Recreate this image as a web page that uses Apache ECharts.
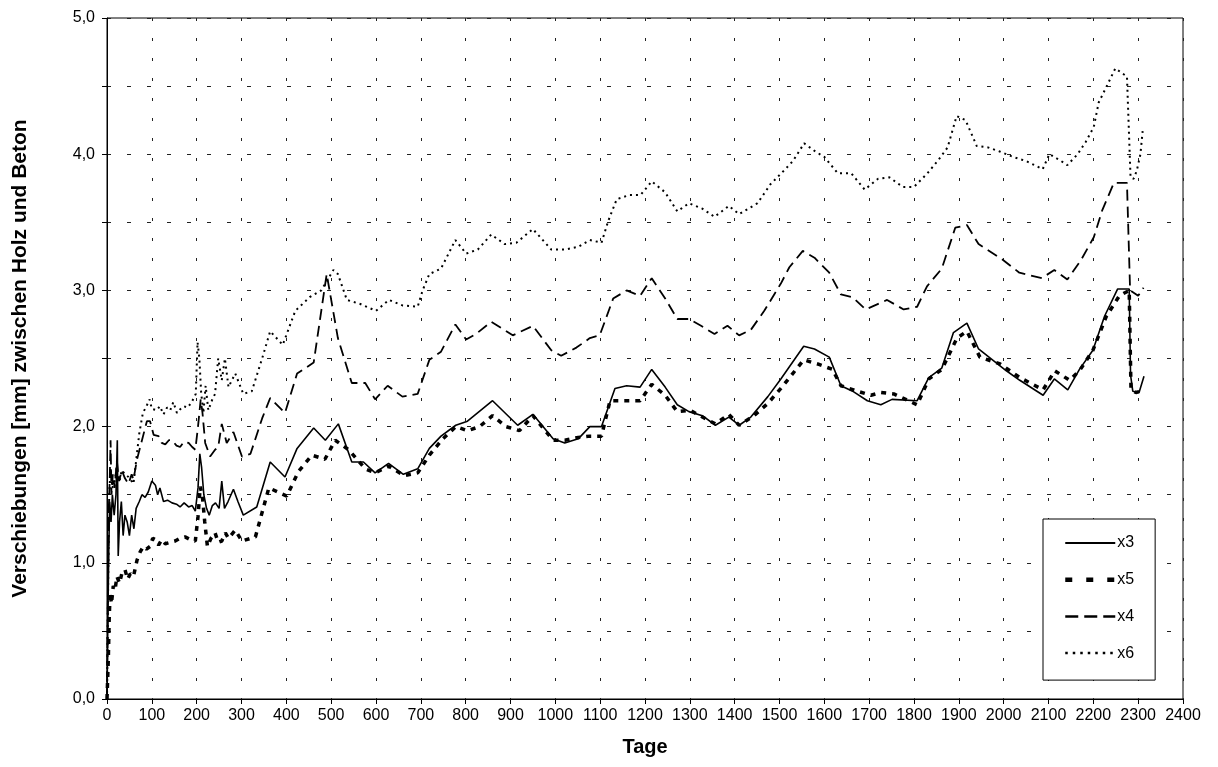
<!DOCTYPE html>
<html>
<head>
<meta charset="utf-8">
<script src="https://cdn.jsdelivr.net/npm/echarts@6/dist/echarts.min.js"></script>
<style>
html,body{margin:0;padding:0;background:#fff;}
#chart{width:1218px;height:767px;}
</style>
</head>
<body>
<div id="chart"></div>
<script>
// ---- data: [Tage, Verschiebung mm] ----
const seriesNames = ['x3', 'x5', 'x4', 'x6'];
const xTicks = { min: 0, max: 2400, step: 100 };
const yTicks = { min: 0, max: 5, step: 0.5 };

const x3 = [[0,0],[2,0.6],[4,1.1],[6,1.45],[9,1.3],[12,1.5],[16,1.35],[20,1.5],[23,1.9],[25,1.05],[28,1.3],[32,1.45],[36,1.2],[40,1.35],[45,1.3],[50,1.2],[55,1.35],[60,1.25],[65,1.4],[72,1.45],[78,1.5],[85,1.48],[92,1.52],[100,1.6],[108,1.57],[113,1.5],[118,1.55],[126,1.45],[135,1.46],[145,1.44],[155,1.43],[163,1.41],[172,1.44],[182,1.41],[190,1.42],[197,1.38],[203,1.55],[207,1.8],[211,1.7],[216,1.5],[222,1.4],[228,1.35],[235,1.42],[242,1.44],[250,1.4],[256,1.6],[262,1.4],[270,1.45],[282,1.54],[292,1.45],[304,1.35],[334,1.41],[364,1.74],[397,1.63],[424,1.84],[461,1.99],[487,1.9],[516,2.02],[546,1.74],[572,1.74],[598,1.66],[628,1.73],[661,1.65],[693,1.69],[719,1.84],[745,1.93],[778,2.01],[804,2.04],[860,2.19],[916,2.01],[950,2.09],[995,1.91],[1021,1.88],[1051,1.91],[1077,2.0],[1103,2.0],[1133,2.28],[1159,2.3],[1189,2.29],[1215,2.42],[1245,2.29],[1272,2.16],[1298,2.11],[1328,2.08],[1357,2.01],[1387,2.07],[1410,2.01],[1436,2.07],[1474,2.22],[1503,2.35],[1554,2.59],[1578,2.57],[1611,2.51],[1637,2.3],[1663,2.26],[1696,2.19],[1726,2.16],[1751,2.2],[1807,2.19],[1833,2.36],[1862,2.43],[1888,2.69],[1918,2.76],[1944,2.57],[2006,2.41],[2036,2.34],[2088,2.23],[2113,2.35],[2143,2.27],[2169,2.42],[2199,2.56],[2225,2.81],[2254,3.01],[2280,3.01],[2283,2.38],[2288,2.26],[2302,2.25],[2313,2.37]];

const x5 = [[0,0],[3,0.3],[5,0.6],[7,0.78],[10,0.7],[14,0.83],[18,0.8],[22,0.9],[28,0.85],[33,0.92],[40,0.95],[46,0.88],[52,0.92],[59,0.9],[67,1.02],[74,1.08],[81,1.12],[88,1.1],[96,1.12],[102,1.18],[108,1.17],[115,1.13],[122,1.17],[130,1.14],[141,1.15],[152,1.16],[163,1.18],[174,1.19],[186,1.17],[197,1.16],[203,1.34],[208,1.56],[213,1.48],[218,1.3],[224,1.12],[232,1.18],[241,1.22],[248,1.15],[256,1.16],[264,1.22],[271,1.18],[286,1.24],[301,1.16],[331,1.19],[361,1.55],[401,1.49],[427,1.67],[457,1.79],[486,1.76],[509,1.9],[539,1.83],[576,1.69],[598,1.66],[628,1.71],[663,1.64],[693,1.66],[719,1.79],[749,1.91],[778,2.0],[804,1.97],[831,2.0],[860,2.08],[890,2.0],[920,1.97],[950,2.08],[995,1.9],[1021,1.9],[1051,1.92],[1077,1.93],[1103,1.93],[1122,2.19],[1159,2.19],[1189,2.19],[1215,2.31],[1245,2.23],[1272,2.11],[1301,2.12],[1328,2.07],[1357,2.02],[1387,2.09],[1410,2.01],[1443,2.08],[1474,2.17],[1503,2.28],[1554,2.49],[1585,2.46],[1618,2.42],[1637,2.3],[1674,2.26],[1704,2.23],[1726,2.25],[1755,2.24],[1807,2.16],[1833,2.35],[1862,2.42],[1896,2.65],[1918,2.7],[1947,2.51],[1992,2.46],[2036,2.36],[2088,2.27],[2114,2.41],[2147,2.34],[2169,2.41],[2199,2.56],[2229,2.81],[2258,2.96],[2280,3.0],[2284,2.27],[2295,2.25],[2306,2.26]];

const x4 = [[0,0],[2,0.8],[4,1.4],[6,1.6],[8,1.9],[10,1.5],[13,1.65],[17,1.55],[22,1.75],[27,1.6],[33,1.68],[40,1.62],[48,1.58],[55,1.65],[59,1.61],[67,1.76],[78,1.9],[89,2.04],[96,2.04],[104,1.94],[115,1.93],[122,1.88],[130,1.87],[138,1.9],[145,1.9],[155,1.86],[163,1.85],[172,1.89],[182,1.88],[190,1.85],[197,1.83],[203,2.0],[209,2.2],[213,2.1],[219,1.88],[230,1.78],[241,1.83],[248,1.85],[256,2.02],[267,1.88],[282,1.96],[301,1.78],[320,1.8],[346,2.06],[364,2.21],[397,2.1],[424,2.39],[461,2.47],[490,3.12],[515,2.65],[546,2.32],[576,2.32],[598,2.2],[626,2.3],[659,2.22],[693,2.24],[719,2.49],[745,2.55],[777,2.75],[801,2.64],[823,2.68],[857,2.77],[905,2.67],[950,2.74],[991,2.56],[1013,2.52],[1047,2.58],[1077,2.65],[1099,2.67],[1129,2.94],[1159,3.0],[1189,2.96],[1215,3.09],[1245,2.94],[1272,2.79],[1298,2.79],[1325,2.74],[1355,2.68],[1384,2.74],[1410,2.67],[1436,2.71],[1466,2.85],[1503,3.05],[1522,3.17],[1552,3.29],[1578,3.24],[1611,3.13],[1637,2.97],[1663,2.95],[1692,2.86],[1740,2.93],[1777,2.86],[1807,2.88],[1829,3.03],[1862,3.16],[1892,3.46],[1918,3.48],[1944,3.34],[2000,3.22],[2035,3.13],[2085,3.09],[2113,3.15],[2142,3.08],[2172,3.22],[2201,3.39],[2220,3.59],[2246,3.79],[2275,3.79],[2282,3.0],[2300,2.96],[2312,3.02]];

const x6 = [[0,0],[3,1.0],[5,1.5],[8,1.7],[12,1.55],[17,1.6],[22,1.7],[28,1.6],[33,1.68],[40,1.65],[48,1.63],[55,1.6],[59,1.58],[65,1.75],[72,1.95],[80,2.1],[88,2.15],[95,2.2],[100,2.13],[111,2.12],[118,2.15],[126,2.09],[134,2.14],[141,2.12],[148,2.18],[156,2.1],[164,2.13],[171,2.15],[180,2.14],[189,2.18],[198,2.24],[202,2.62],[206,2.5],[210,2.25],[215,2.1],[220,2.3],[226,2.12],[235,2.2],[241,2.24],[248,2.5],[256,2.34],[263,2.5],[271,2.29],[286,2.39],[304,2.24],[323,2.26],[346,2.5],[364,2.7],[392,2.6],[420,2.85],[452,2.95],[478,3.0],[505,3.15],[515,3.12],[535,2.93],[565,2.9],[600,2.85],[629,2.93],[659,2.89],[693,2.88],[704,3.0],[719,3.12],[745,3.16],[777,3.37],[801,3.27],[827,3.3],[857,3.41],[887,3.34],[913,3.35],[950,3.45],[991,3.3],[1021,3.3],[1051,3.32],[1077,3.37],[1103,3.35],[1118,3.51],[1137,3.67],[1165,3.7],[1190,3.7],[1215,3.8],[1245,3.72],[1272,3.58],[1298,3.64],[1328,3.6],[1355,3.54],[1387,3.62],[1410,3.56],[1451,3.64],[1480,3.78],[1510,3.88],[1530,3.95],[1555,4.08],[1580,4.02],[1600,3.98],[1630,3.86],[1660,3.86],[1690,3.74],[1720,3.82],[1745,3.83],[1775,3.76],[1800,3.76],[1830,3.86],[1855,3.96],[1875,4.05],[1895,4.28],[1915,4.25],[1940,4.06],[1965,4.05],[1991,4.02],[2021,3.98],[2050,3.95],[2087,3.89],[2102,4.0],[2128,3.95],[2142,3.92],[2165,4.0],[2183,4.09],[2201,4.2],[2212,4.38],[2227,4.48],[2249,4.63],[2275,4.57],[2279,4.2],[2283,3.83],[2290,3.82],[2297,3.88],[2305,4.0],[2310,4.17]];

const seriesData = { x3: x3, x5: x5, x4: x4, x6: x6 };

// ---- styles ----
const FONT = 'Liberation Sans, Arial, Helvetica, sans-serif';
const styles = {
  x3: { width: 1.6, type: 'solid', legendWidth: 2, legendType: 'solid' },
  x5: { width: 3.5, type: [5, 6], legendWidth: 4.5, legendType: [7, 14] },
  x4: { width: 1.8, type: [11, 6], legendWidth: 2.5, legendType: [13, 6] },
  x6: { width: 2, type: [2, 4], legendWidth: 2.5, legendType: [2.5, 5] }
};

const chart = echarts.init(document.getElementById('chart'), null, { renderer: 'canvas' });

const option = {
  backgroundColor: '#fff',
  animation: false,
  grid: { left: 107, right: 35, top: 18, bottom: 68, show: true, borderColor: '#000', borderWidth: 1, backgroundColor: 'transparent' },
  xAxis: {
    type: 'value', min: xTicks.min, max: xTicks.max, interval: xTicks.step,
    name: 'Tage', nameLocation: 'middle', nameGap: 38,
    nameTextStyle: { fontFamily: FONT, fontWeight: 'bold', fontSize: 20, color: '#000' },
    axisLine: { show: true, lineStyle: { color: '#000', width: 1 } },
    axisTick: { show: true, inside: false, length: 5, lineStyle: { color: '#000' } },
    axisLabel: { fontFamily: FONT, fontSize: 16, color: '#000', margin: 9,
      formatter: function (v) { return String(v); } },
    splitLine: { show: true, lineStyle: { color: '#222', width: 1, type: [3, 17] } }
  },
  yAxis: {
    type: 'value', min: yTicks.min, max: yTicks.max, interval: yTicks.step,
    name: 'Verschiebungen [mm] zwischen Holz und Beton', nameLocation: 'middle', nameGap: 76, nameRotate: 90,
    nameTextStyle: { fontFamily: FONT, fontWeight: 'bold', fontSize: 21, color: '#000' },
    axisLine: { show: true, lineStyle: { color: '#000', width: 1 } },
    axisTick: { show: true, inside: false, length: 5, lineStyle: { color: '#000' } },
    axisLabel: {
      fontFamily: FONT, fontSize: 16, color: '#000', margin: 12,
      formatter: function (v) { return (Math.abs(v - Math.round(v)) < 1e-9) ? v.toFixed(1).replace('.', ',') : ''; }
    },
    splitLine: { show: true, lineStyle: { color: '#222', width: 1, type: [4, 16] } }
  },
  legend: {
    data: seriesNames.map(function (n) {
      return { name: n, lineStyle: { color: '#000', width: styles[n].legendWidth, type: styles[n].legendType } };
    }),
    orient: 'vertical',
    left: 1043, top: 519,
    width: 110,
    padding: [16, 21, 19, 20],
    itemGap: 20.7,
    itemWidth: 50, itemHeight: 14,
    backgroundColor: '#fff',
    borderColor: '#000', borderWidth: 1,
    itemStyle: { color: 'rgba(0,0,0,0)', borderWidth: 0, opacity: 0 },
    textStyle: { fontFamily: FONT, fontSize: 16, color: '#000', padding: [0, 0, 0, -3] },
    selectedMode: false
  },
  series: seriesNames.map(function (n) {
    return {
      name: n, type: 'line', data: seriesData[n],
      symbol: 'none', showSymbol: false, smooth: false,
      lineStyle: { color: '#000', width: styles[n].width, type: styles[n].type },
      itemStyle: { color: '#000' },
      z: 3
    };
  })
};

chart.setOption(option);
</script>
</body>
</html>
